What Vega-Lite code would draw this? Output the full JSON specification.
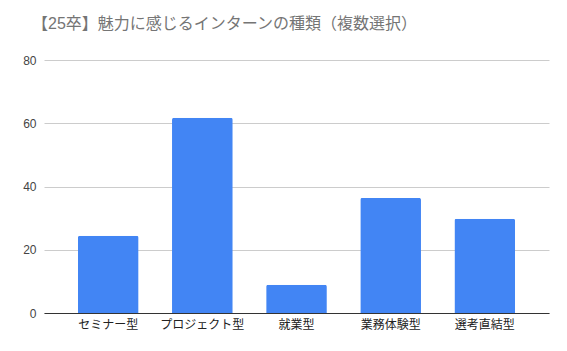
{
  "$schema": "https://vega.github.io/schema/vega-lite/v6.json",
  "width": 505,
  "height": 253,
  "autosize": {"type": "none"},
  "padding": {"left": 44, "top": 60, "right": 18, "bottom": 38},
  "background": "white",
  "title": {
    "text": "【25卒】魅力に感じるインターンの種類（複数選択）",
    "anchor": "start",
    "frame": "group",
    "dx": -12,
    "offset": 22,
    "font": "Liberation Sans, Noto Sans CJK JP",
    "fontSize": 16,
    "fontWeight": "normal",
    "color": "#757575"
  },
  "config": {
    "view": {"stroke": null},
    "font": "Liberation Sans, Noto Sans CJK JP"
  },
  "data": {
    "values": [
      {"type": "セミナー型", "value": 24.4},
      {"type": "プロジェクト型", "value": 61.7},
      {"type": "就業型", "value": 8.9},
      {"type": "業務体験型", "value": 36.4},
      {"type": "選考直結型", "value": 29.8}
    ]
  },
  "mark": {"type": "bar", "color": "#4285F4", "cornerRadiusTopLeft": 2, "cornerRadiusTopRight": 2},
  "encoding": {
    "x": {
      "field": "type",
      "type": "nominal",
      "sort": null,
      "scale": {"paddingInner": 0.355, "paddingOuter": 0.36},
      "axis": {
        "title": null,
        "labelAngle": 0,
        "labelFontSize": 12,
        "labelColor": "#222222",
        "ticks": false,
        "domainColor": "#333333",
        "labelPadding": 6
      }
    },
    "y": {
      "field": "value",
      "type": "quantitative",
      "scale": {"domain": [0, 80]},
      "axis": {
        "title": null,
        "values": [0, 20, 40, 60, 80],
        "domain": false,
        "ticks": false,
        "gridColor": "#cccccc",
        "labelFontSize": 12,
        "labelColor": "#444444",
        "labelPadding": 8
      }
    }
  }
}
